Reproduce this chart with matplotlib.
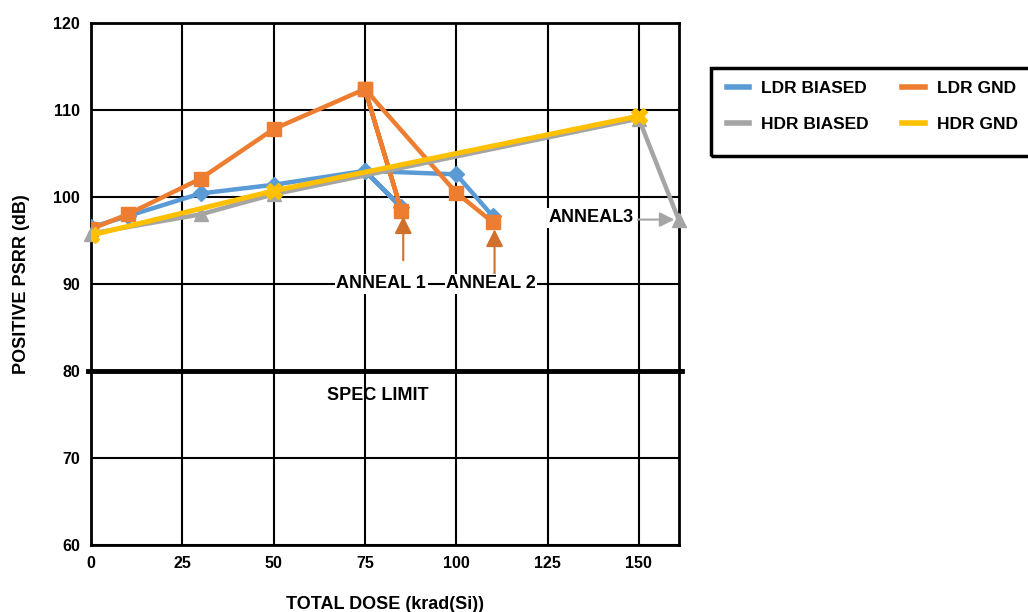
import matplotlib.pyplot as plt
from matplotlib.lines import Line2D
from matplotlib.patches import Rectangle

plt.rcParams['font.family'] = ['Liberation Sans', 'DejaVu Sans']
plt.rcParams['font.weight'] = 'bold'

# LDR series go back to 75 after the first anneal point
ldr_b_x = [0, 10, 30, 50, 75, 85, 75, 100, 110]
ldr_b_y = [96.5, 97.8, 100.4, 101.4, 103.0, 98.8, 103.0, 102.6, 97.8]
ldr_g_x = [0, 10, 30, 50, 75, 85, 75, 100, 110]
ldr_g_y = [96.3, 98.0, 102.1, 107.8, 112.4, 98.4, 112.4, 100.5, 97.1]
hdr_b_x = [0, 30, 50, 150, 161]
hdr_b_y = [95.8, 98.0, 100.3, 109.0, 97.3]
hdr_g_x = [0, 50, 150]
hdr_g_y = [95.6, 100.7, 109.3]

spec_limit = 80
x_ticks = [0, 25, 50, 75, 100, 125, 150]
y_ticks = [60, 70, 80, 90, 100, 110, 120]

blue = '#5B9BD5'
orange = '#ED7D31'
gray = '#A5A5A5'
yellow = '#FFC000'
fs = 13

fig = plt.figure(figsize=(10.28, 6.12), dpi=100)
ax = fig.add_axes([0.0885, 0.1095, 0.572, 0.853])

ax.set_xlim(0, 161)
ax.set_ylim(60, 120)
ax.set_xticks(x_ticks)
ax.set_yticks(y_ticks)
ax.grid(True, color='black', linewidth=1.5)
ax.set_axisbelow(True)
for s in ax.spines.values():
    s.set_linewidth(2)
ax.tick_params(length=0, labelsize=11.5, pad=8)
for lab in ax.get_xticklabels() + ax.get_yticklabels():
    lab.set_fontweight('bold')

ax.plot(ldr_b_x, ldr_b_y, color=blue, lw=3.2, marker='D', ms=8, zorder=4)
ax.plot(ldr_g_x, ldr_g_y, color=orange, lw=3.2, marker='s', ms=10, zorder=5)
ax.plot(hdr_b_x, hdr_b_y, color=gray, lw=3.2, marker='^', ms=10, zorder=6, clip_on=False)
ax.plot(hdr_g_x, hdr_g_y, color=yellow, lw=3.6, marker='X', ms=11, zorder=7)

ax.axhline(spec_limit, color='black', lw=3.5, zorder=8, xmin=-0.005, xmax=1.005, clip_on=False)
ax.text(78.5, 77.2, 'SPEC LIMIT', ha='center', va='center', fontsize=fs, fontweight='bold')

# anneal annotations
arrow_o = dict(arrowstyle='-|>', color='#D0702A', lw=1.5, mutation_scale=26)
ax.annotate('', xy=(85.5, 98.1), xytext=(85.5, 92.4), arrowprops=arrow_o, zorder=9)
ax.annotate('', xy=(110.5, 96.6), xytext=(110.5, 90.8), arrowprops=arrow_o, zorder=9)
ax.text(79.5, 90, 'ANNEAL 1', ha='center', va='center', fontsize=fs, fontweight='bold',
        bbox=dict(facecolor='white', edgecolor='none', pad=1), zorder=9)
ax.text(109.5, 90, 'ANNEAL 2', ha='center', va='center', fontsize=fs, fontweight='bold',
        bbox=dict(facecolor='white', edgecolor='none', pad=1), zorder=9)
ax.text(148.5, 97.6, 'ANNEAL3', ha='right', va='center', fontsize=fs, fontweight='bold',
        bbox=dict(facecolor='white', edgecolor='none', pad=1), zorder=9)
ax.annotate('', xy=(160.5, 97.4), xytext=(149, 97.4),
            arrowprops=dict(arrowstyle='-|>', color=gray, lw=1.5, mutation_scale=22), zorder=9)

ax.set_xlabel('TOTAL DOSE (krad(Si))', fontsize=fs, fontweight='bold', labelpad=18)
ax.set_ylabel('POSITIVE PSRR (dB)', fontsize=fs, fontweight='bold', labelpad=17)

handles = [Line2D([], [], color=blue, lw=4), Line2D([], [], color=gray, lw=4),
           Line2D([], [], color=orange, lw=4), Line2D([], [], color=yellow, lw=4)]
labels = ['LDR BIASED', 'HDR BIASED', 'LDR GND', 'HDR GND']
fig.legend(handles, labels, ncol=2, loc='upper left',
           bbox_to_anchor=(718 / 1028, 1 - 72 / 612), prop={'weight': 'bold', 'size': 12.5},
           frameon=False, borderpad=0, handlelength=1.3, handletextpad=0.7,
           columnspacing=1.9, labelspacing=1.2)
fig.add_artist(Rectangle((711 / 1028, 1 - 156 / 612), 330 / 1028, 88 / 612,
                         transform=fig.transFigure, fill=False, edgecolor='black',
                         linewidth=2.5, clip_on=False))

fig.savefig('out.png', dpi=100)
